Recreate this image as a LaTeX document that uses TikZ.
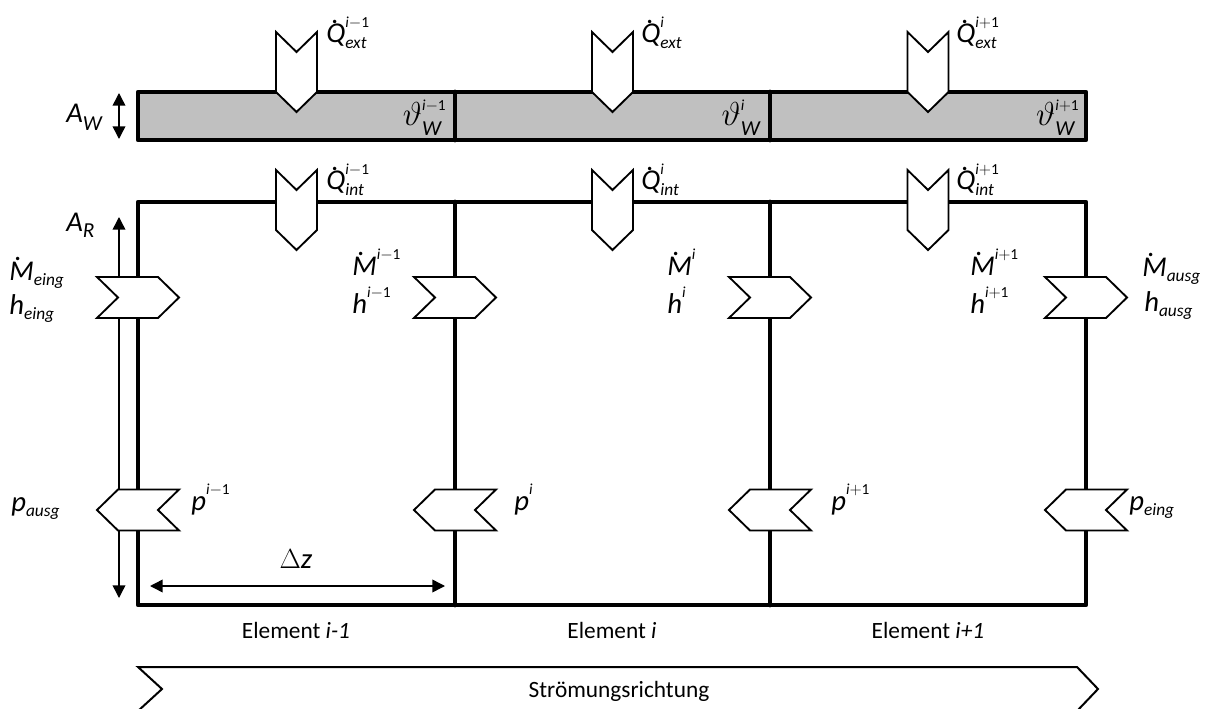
\documentclass[tikz,border=0pt]{standalone}
\usepackage{fontspec}
\setmainfont{Carlito}
\usetikzlibrary{arrows.meta}
\definecolor{bandgray}{RGB}{192,192,192}
\newdimen\labw
\newcommand\scr{\fontsize{11.5}{12}\selectfont\itshape}
\newcommand\scb{\fontsize{13}{13}\selectfont\itshape}
\newcommand\scrW{\fontsize{16}{16}\selectfont\itshape}
\newcommand\im{i${-}$\upshape 1}
\newcommand\ip{i${+}$\upshape 1}
\newcommand\dotd[1]{\rlap{\kern0.17em\raise0.68em\hbox{\upshape.}}\textit{#1}}
\newcommand\SupSub[5]{%
  \mbox{#1}\setbox0\hbox{\scr #2}\setbox2\hbox{#4#3}%
  \ifdim\wd0>\wd2 \labw=\wd0 \else \labw=\wd2 \fi
  \rlap{\raise 11.5pt\box0}\rlap{\lower #5\box2}\kern\labw\relax}
\newcommand\vth{{\fontsize{23}{24}\selectfont$\vartheta$}}
\tikzset{
  boxline/.style={line width=3.6pt, line join=round, line cap=round},
  chev/.style={draw, fill=white, line width=1.4pt, line join=miter},
  thinarrow/.style={line width=1.1pt, {Triangle[length=9.5pt,width=9.5pt]}-{Triangle[length=9.5pt,width=9.5pt]}},
  bigarrow/.style={draw, line width=1.5pt, line join=miter},
  lab/.style={inner sep=0pt, font=\fontsize{17.5}{21}\selectfont},
  mlab/.style={inner sep=0pt, font=\fontsize{21.5}{24}\selectfont},
  chevD/.pic={\path[chev] (-20.5,0) -- (0,20) -- (20.5,0) -- (20.5,60) -- (0,80) -- (-20.5,60) -- cycle;},
  chevR/.pic={\path[chev] (-41,-20.5) -- (20,-20.5) -- (41,0) -- (20,20.5) -- (-41,20.5) -- (-20,0) -- cycle;},
  chevL/.pic={\path[chev] (41,-20.5) -- (-20,-20.5) -- (-41,0) -- (-20,20.5) -- (41,20.5) -- (20,0) -- cycle;},
}
\begin{document}
\begin{tikzpicture}[x=0.75pt,y=-0.75pt]
\useasboundingbox (0,0) rectangle (1212,709);
\clip (0,0) rectangle (1212,709);

% wall band
\draw[boxline, fill=bandgray] (138,92) rectangle (1086,140);
\draw[boxline] (455,92) -- (455,140);
\draw[boxline] (770,92) -- (770,140);

% main box
\draw[boxline] (138,202) rectangle (1086,605);
\draw[boxline] (455,202) -- (455,605);
\draw[boxline] (770,202) -- (770,605);

% dimension arrows
\coordinate (awT) at (119,93);
\coordinate (awB) at (119,139);
\coordinate (arT) at (119,217);
\coordinate (arB) at (119,598);
\coordinate (dzL) at (150,586);
\coordinate (dzR) at (445,586);
\draw[thinarrow] (awT) -- (awB);
\draw[thinarrow] (arT) -- (arB);
\draw[thinarrow] (dzL) -- (dzR);

% heat chevrons
\pic (qe1) at (296.5,32) {chevD};
\pic (qe2) at (612.5,32) {chevD};
\pic (qe3) at (928,32) {chevD};
\pic (qi1) at (296.5,170) {chevD};
\pic (qi2) at (612.5,170) {chevD};
\pic (qi3) at (928,170) {chevD};

% flow chevrons
\pic (m0) at (138,297.5) {chevR};
\pic (m1) at (455,297.5) {chevR};
\pic (m2) at (770,297.5) {chevR};
\pic (m3) at (1086,297.5) {chevR};
\pic (p0) at (138,510) {chevL};
\pic (p1) at (455,510) {chevL};
\pic (p2) at (770,510) {chevL};
\pic (p3) at (1086,510) {chevL};

% flow direction arrow
\draw[bigarrow] (138,667) -- (1077,667) -- (1098,689) -- (1077,711) -- (138,711) -- (162,689) -- cycle;

% labels
\node[mlab, anchor=base west] (lqe1) at (326,43) {\SupSub{\dotd{Q}}{\im}{ext}{\scb}{4pt}};
\node[mlab, anchor=base west] (lqe2) at (641,43) {\SupSub{\dotd{Q}}{i}{ext}{\scb}{4pt}};
\node[mlab, anchor=base west] (lqe3) at (956,43) {\SupSub{\dotd{Q}}{\ip}{ext}{\scb}{4pt}};
\node[mlab, anchor=base west] (lqi1) at (326,190) {\SupSub{\dotd{Q}}{\im}{int}{\scb}{4pt}};
\node[mlab, anchor=base west] (lqi2) at (641,190) {\SupSub{\dotd{Q}}{i}{int}{\scb}{4pt}};
\node[mlab, anchor=base west] (lqi3) at (956,190) {\SupSub{\dotd{Q}}{\ip}{int}{\scb}{4pt}};

\node[mlab, anchor=base east] (lt1) at (446,126) {\SupSub{\vth}{\im}{W}{\scrW}{7pt}};
\node[mlab, anchor=base east] (lt2) at (760,126) {\SupSub{\vth}{i}{W}{\scrW}{7pt}};
\node[mlab, anchor=base east] (lt3) at (1079,126) {\SupSub{\vth}{\ip}{W}{\scrW}{7pt}};

\node[mlab, anchor=base west] (law) at (66,123) {\SupSub{\textit{A}}{}{W}{\scrW}{6pt}};
\node[mlab, anchor=base west] (lar) at (66,232) {\SupSub{\textit{A}}{}{R}{\scrW}{4pt}};

\node[mlab, anchor=base west] (lme) at (9,280) {\SupSub{\dotd{M}}{}{eing}{\scb}{4pt}};
\node[mlab, anchor=base west] (lhe) at (9,314) {\SupSub{\textit{h}}{}{eing}{\scb}{4pt}};
\node[mlab, anchor=base west] (lm1) at (352,275) {\SupSub{\dotd{M}}{\im}{}{\scb}{4pt}};
\node[mlab, anchor=base west] (lh1) at (352,313) {\SupSub{\textit{h}}{\im}{}{\scb}{4pt}};
\node[mlab, anchor=base west] (lm2) at (667,275) {\SupSub{\dotd{M}}{i}{}{\scb}{4pt}};
\node[mlab, anchor=base west] (lh2) at (667,313) {\SupSub{\textit{h}}{i}{}{\scb}{4pt}};
\node[mlab, anchor=base west] (lm3) at (970,275) {\SupSub{\dotd{M}}{\ip}{}{\scb}{4pt}};
\node[mlab, anchor=base west] (lh3) at (970,313) {\SupSub{\textit{h}}{\ip}{}{\scb}{4pt}};
\node[mlab, anchor=base west] (lma) at (1142,276) {\SupSub{\dotd{M}}{}{ausg}{\scb}{4pt}};
\node[mlab, anchor=base west] (lha) at (1144,311) {\SupSub{\textit{h}}{}{ausg}{\scb}{4pt}};

\node[mlab, anchor=base west] (lpa) at (11,511) {\SupSub{\textit{p}}{}{ausg}{\scb}{4pt}};
\node[mlab, anchor=base west] (lp1) at (191,510) {\SupSub{\textit{p}}{\im}{}{\scb}{4pt}};
\node[mlab, anchor=base west] (lp2) at (514,510) {\SupSub{\textit{p}}{i}{}{\scb}{4pt}};
\node[mlab, anchor=base west] (lp3) at (831,510) {\SupSub{\textit{p}}{\ip}{}{\scb}{4pt}};
\node[mlab, anchor=base west] (lpe) at (1129,510) {\SupSub{\textit{p}}{}{eing}{\scb}{4pt}};

\node[mlab, anchor=base] (ldz) at (296,568) {$\Delta$\textit{z}};

\node[lab, anchor=base] (el1) at (296,638) {Element \textit{i-1}};
\node[lab, anchor=base] (el2) at (612,638) {Element \textit{i}};
\node[lab, anchor=base] (el3) at (928,638) {Element \textit{i+1}};
\node[lab, anchor=base] (flow) at (619,697) {Strömungsrichtung};
\end{tikzpicture}
\end{document}
